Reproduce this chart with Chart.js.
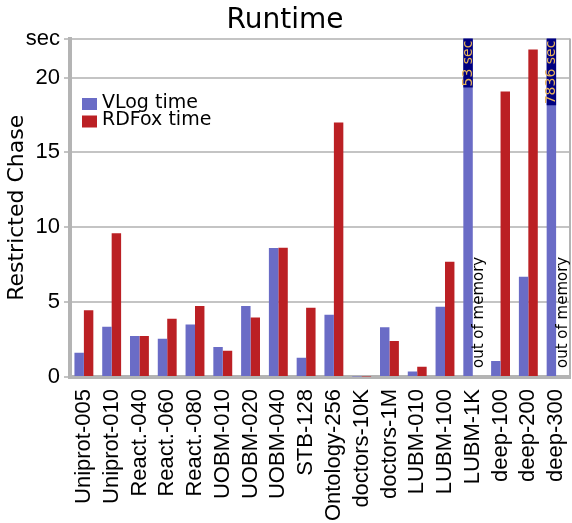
<!DOCTYPE html>
<html>
<head>
<meta charset="utf-8">
<script src="https://cdn.jsdelivr.net/npm/chart.js@4/dist/chart.umd.min.js"></script>
<style>
  html, body { margin: 0; padding: 0; background: #fff; }
  #wrap { width: 572px; height: 523px; }
</style>
</head>
<body>
<div id="wrap"><canvas id="runtime-chart" width="572" height="523"></canvas></div>
<script>
var categories = ["Uniprot-005","Uniprot-010","React.-040","React.-060","React.-080",
  "UOBM-010","UOBM-020","UOBM-040","STB-128","Ontology-256","doctors-10K",
  "doctors-1M","LUBM-010","LUBM-100","LUBM-1K","deep-100","deep-200","deep-300"];
// seconds; the two huge VLog runs go past the top of the axis
var vlogTime  = [1.62,3.35,2.73,2.55,3.51,2.0,4.75,8.62,1.29,4.15,0.04,3.33,0.36,4.69,53,1.07,6.69,7836];
// null = RDFox ran out of memory
var rdfoxTime = [4.45,9.6,2.73,3.89,4.75,1.76,3.98,8.64,4.62,17.0,0.04,2.4,0.69,7.69,null,19.07,21.87,null];
var yMax = 22.6;

var BLUE = "#6a6cc6", RED = "#bb2024", GRID = "#c4c4c4", AXIS = "#b4b4b4";

// right frame line, legend box, clipped-bar labels, "out of memory" notes
var extras = {
  id: "extras",
  afterDatasetsDraw: function(chart) {
    var ctx = chart.ctx, area = chart.chartArea;
    var blue = chart.getDatasetMeta(0).data;
    ctx.save();

    ctx.strokeStyle = AXIS;
    ctx.lineWidth = 2;
    ctx.beginPath();
    ctx.moveTo(area.right, area.top);
    ctx.lineTo(area.right, area.bottom);
    ctx.stroke();

    // labels for bars that don't fit
    ctx.font = "14px 'DejaVu Sans'";
    ctx.textBaseline = "middle";
    vlogTime.forEach(function(v, i) {
      if (v <= yMax) return;
      var bar = blue[i];
      var txt = v + " sec";
      var h = ctx.measureText(txt).width + 3;
      ctx.fillStyle = "#000080";
      ctx.fillRect(bar.x - bar.width / 2, area.top, bar.width, h);
      ctx.save();
      ctx.translate(bar.x, area.top + h - 1);
      ctx.rotate(-Math.PI / 2);
      ctx.fillStyle = "#e8b45a";
      ctx.fillText(txt, 0, 0);
      ctx.restore();
    });

    ctx.font = "15px 'DejaVu Sans'";
    rdfoxTime.forEach(function(v, i) {
      if (v !== null) return;
      var bar = blue[i];
      ctx.save();
      ctx.translate(bar.x + bar.width + 2, area.bottom - 9);
      ctx.rotate(-Math.PI / 2);
      ctx.fillStyle = "#000";
      ctx.fillText("out of memory", 0, 0);
      ctx.restore();
    });

    // legend inside the plot
    ctx.font = "19px 'DejaVu Sans'";
    chart.data.datasets.forEach(function(ds, k) {
      var y = 98 + k * 17.5;
      ctx.fillStyle = ds.backgroundColor;
      ctx.fillRect(82, y, 15, 12);
      ctx.fillStyle = "#000";
      ctx.fillText(ds.label, 102, y + 5);
    });
    ctx.restore();
  }
};

window.onload = function() {
  var canvas = document.getElementById("runtime-chart");
  new Chart(canvas, {
    type: "bar",
    data: {
      labels: categories,
      datasets: [
        { label: "VLog time", data: vlogTime, backgroundColor: BLUE },
        { label: "RDFox time", data: rdfoxTime, backgroundColor: RED }
      ]
    },
    options: {
      responsive: false,
      animation: false,
      layout: { padding: { left: 0, right: 2, top: 0, bottom: 0 } },
      categoryPercentage: 0.68,
      barPercentage: 1.0,
      plugins: {
        legend: { display: false },
        tooltip: { enabled: false },
        title: {
          display: true,
          text: "Runtime",
          color: "#000",
          font: { family: "DejaVu Sans", size: 28, weight: "normal" },
          padding: { top: 4, bottom: 1 }
        }
      },
      scales: {
        x: {
          grid: { display: false },
          border: { color: AXIS, width: 4 },
          ticks: {
            color: "#000",
            font: { family: "Liberation Sans", size: 22 },
            minRotation: 90, maxRotation: 90,
            autoSkip: false,
            padding: 4
          },
          afterFit: function(scale) {
            scale.height = 146;
            scale.paddingLeft = 0;
            scale.paddingRight = 0;
          }
        },
        y: {
          min: 0,
          max: yMax,
          grid: { color: GRID, lineWidth: 2, tickLength: 6, drawTicks: true },
          border: { color: AXIS, width: 4 },
          ticks: {
            stepSize: 5,
            color: "#000",
            font: { family: "Liberation Sans", size: 22 },
            padding: 4,
            callback: function(v, i, ticks) {
              return i === ticks.length - 1 ? "sec" : v;
            }
          },
          title: {
            display: true,
            text: "Restricted Chase",
            color: "#000",
            font: { family: "DejaVu Sans", size: 22 },
            padding: { top: 4, bottom: 0 }
          },
          afterFit: function(scale) { scale.width = 70; }
        }
      }
    },
    plugins: [extras]
  });
};
</script>
</body>
</html>
